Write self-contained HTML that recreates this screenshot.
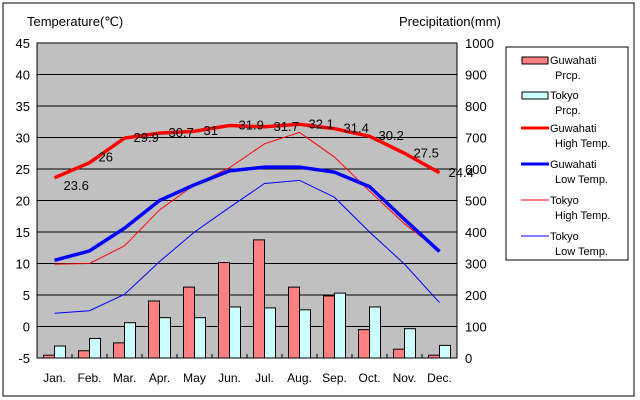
<!DOCTYPE html>
<html><head><meta charset="utf-8"><style>
body{margin:0;background:#fff;}
svg{display:block;font-family:"Liberation Sans",sans-serif;}
</style></head><body>
<svg id="chart" width="640" height="400">
<rect x="3" y="3" width="631" height="393" fill="#fff" stroke="#000"/>
<text x="27" y="26" font-size="13">Temperature(℃)</text>
<text x="399" y="26" font-size="13">Precipitation(mm)</text>
<g id="plot"></g>
<g>
<rect x="506" y="47" width="122" height="213" fill="#fff" stroke="#000"/>
<rect x="522" y="57" width="26" height="7" fill="#ff8080" stroke="#000"/>
<text x="550" y="64" font-size="11">Guwahati</text><text x="555" y="79" font-size="11">Prcp.</text>
<rect x="522" y="92" width="26" height="7" fill="#ccffff" stroke="#000"/>
<text x="550" y="99" font-size="11">Tokyo</text><text x="555" y="114" font-size="11">Prcp.</text>
<line x1="521" y1="128" x2="549" y2="128" stroke="#f00" stroke-width="3"/>
<text x="550" y="132" font-size="11">Guwahati</text><text x="555" y="147" font-size="11">High Temp.</text>
<line x1="521" y1="164" x2="549" y2="164" stroke="#00f" stroke-width="3"/>
<text x="550" y="168" font-size="11">Guwahati</text><text x="555" y="183" font-size="11">Low Temp.</text>
<line x1="521" y1="200" x2="549" y2="200" stroke="#f00" stroke-width="1"/>
<text x="550" y="204" font-size="11">Tokyo</text><text x="555" y="219" font-size="11">High Temp.</text>
<line x1="521" y1="236" x2="549" y2="236" stroke="#00f" stroke-width="1"/>
<text x="550" y="240" font-size="11">Tokyo</text><text x="555" y="255" font-size="11">Low Temp.</text>
</g>
</svg>
<script>
const months=["Jan.","Feb.","Mar.","Apr.","May","Jun.","Jul.","Aug.","Sep.","Oct.","Nov.","Dec."];
const guwPrcp=[9,23,48,181,225,303,375,225,197,90,28,9];
const tokPrcp=[38,62,112,128,128,162,159,153,206,162,93,40];
const guwHigh=[23.6,26,29.9,30.7,31,31.9,31.7,32.1,31.4,30.2,27.5,24.4];
const guwLow=[10.5,12,15.6,20,22.5,24.7,25.3,25.3,24.5,22.2,17,11.9];
const tokHigh=[9.9,10,12.8,18.5,22.5,25.2,29,30.8,26.9,21.5,16.3,12];
const tokLow=[2.1,2.5,5.1,10.3,15,18.9,22.7,23.2,20.5,15,9.9,3.8];
const tempTicks=[45,40,35,30,25,20,15,10,5,0,-5];
const prcpTicks=[1000,900,800,700,600,500,400,300,200,100,0];
const L=37,R=457,T=43,B=358;
const cw=(R-L)/12;
const xc=i=>L+cw*(i+0.5);
const yT=v=>B-(v+5)*(B-T)/50;
const yP=v=>B-v*(B-T)/1000;
const NS="http://www.w3.org/2000/svg";
const g=document.getElementById("plot");
function mk(tag,attrs){const e=document.createElementNS(NS,tag);for(const k in attrs)e.setAttribute(k,attrs[k]);g.appendChild(e);return e;}
let bg=mk("rect",{x:L,y:T,width:R-L,height:B-T,fill:"#c0c0c0",stroke:"#000"});


tempTicks.forEach((t,i)=>{
  const y=yT(t);
  if(t>-5&&t<45){const l=mk("line",{x1:L,x2:R,y1:y,y2:y,stroke:"#000"});
  
  }
  const tx=mk("text",{x:30,y:y+5,"font-size":13,"text-anchor":"end"});tx.textContent=t;
  
  
  const p=mk("text",{x:465,y:yP(prcpTicks[i])+5,"font-size":13});p.textContent=prcpTicks[i];
  
  
});
months.forEach((m,i)=>{
  const x=xc(i);
  const t=mk("line",{x1:L+cw*(i+1),x2:L+cw*(i+1),y1:B,y2:B-4,stroke:"#000"});
  
  
  const a=mk("rect",{x:x-11,y:yP(guwPrcp[i]),width:11,height:B-yP(guwPrcp[i]),fill:"#ff8080",stroke:"#000"});
  
  
  const b=mk("rect",{x:x,y:yP(tokPrcp[i]),width:11,height:B-yP(tokPrcp[i]),fill:"#ccffff",stroke:"#000"});
  
  
  const lb=mk("text",{x:x,y:382,"font-size":12,"text-anchor":"middle"});lb.textContent=m;
  
  
});
function line(arr,color,w,name){
  const pts=arr.map((v,i)=>xc(i)+","+yT(v)).join(" ");
  const p=mk("polyline",{points:pts,fill:"none",stroke:color,"stroke-width":w});
  
  
}
line(tokHigh,"#f00",1,"line-tokyo-high");
line(tokLow,"#00f",1,"line-tokyo-low");
line(guwLow,"#00f",3.5,"line-guwahati-low");
line(guwHigh,"#f00",3.5,"line-guwahati-high");
guwHigh.forEach((v,i)=>{
  const dy=i===0?12:(i===1?-1:4);
  const t=mk("text",{x:xc(i)+9,y:yT(v)+dy,"font-size":13});t.textContent=v;
  
  
});
</script>
</body></html>
